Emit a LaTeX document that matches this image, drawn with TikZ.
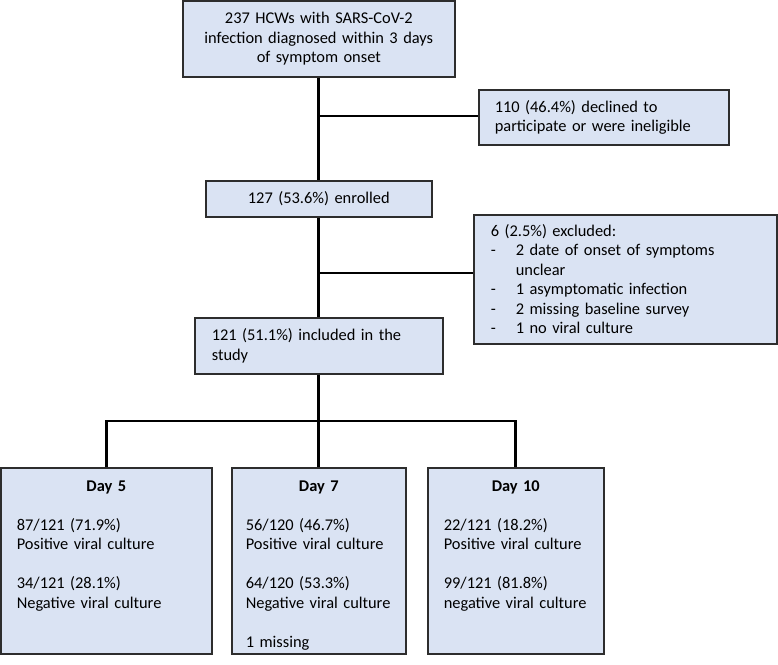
\documentclass[tikz,border=0pt]{standalone}
\usepackage{fontspec}
\setmainfont{Carlito}
\definecolor{boxfill}{RGB}{218,227,243}
\definecolor{boxline}{RGB}{45,45,45}
\newcommand{\listdash}{\makebox[25pt][l]{-}}
\newcommand{\daytitle}[1]{\makebox[\linewidth]{\textbf{#1}}}

\begin{document}
\begin{tikzpicture}
  [x=1pt,y=-1pt,
   box/.style={draw=boxline,fill=boxfill,line width=1.6pt,inner xsep=16pt,inner ysep=0pt,anchor=north west,font=\fontsize{16.4}{19.5}\selectfont},
   daybox/.style={box,align=left,inner ysep=10pt,text height=13.5pt,text depth=152.5pt},
   link/.style={line width=2.8pt}]

  \useasboundingbox (0,0) rectangle (778,664);

  % Screened
  \node [box,align=center,text width=240pt,minimum height=76pt] (screened) at (182,0) {237 HCWs with SARS-CoV-2\\infection diagnosed within 3 days\\of symptom onset};

  % Declined
  \node [box,align=left,text width=218pt,minimum height=55pt] (declined) at (478,89) {110 (46.4\%) declined to\\participate or were ineligible};

  % Enrolled
  \node [box,align=center,text width=194pt,minimum height=36pt] (enrolled) at (205,180) {127 (53.6\%) enrolled};

  % Excluded
  \node [box,align=left,inner xsep=17pt,text width=269pt,minimum height=129pt] (excluded) at (473,214) {6 (2.5\%) excluded:\\\listdash 2 date of onset of symptoms\\\hspace*{25pt}unclear\\\listdash 1 asymptomatic infection\\\listdash 2 missing baseline survey\\\listdash 1 no viral culture};

  % Included
  \node [box,align=left,inner xsep=17pt,text width=214pt,minimum height=56pt] (included) at (194,317) {121 (51.1\%) included in the\\study};

  % Follow-up days
  \node [daybox,text width=179pt] (day5) at (0,467) {\daytitle{Day 5}\\[19.5pt]87/121 (71.9\%)\\Positive viral culture\\[19.5pt]34/121 (28.1\%)\\Negative viral culture};
  \node [daybox,inner xsep=14pt,text width=146pt] (day7) at (231,467) {\daytitle{Day 7}\\[19.5pt]56/120 (46.7\%)\\Positive viral culture\\[19.5pt]64/120 (53.3\%)\\Negative viral culture\\[19.5pt]1 missing};
  \node [daybox,text width=144pt] (day10) at (427,467) {\daytitle{Day 10}\\[19.5pt]22/121 (18.2\%)\\Positive viral culture\\[19.5pt]99/121 (81.8\%)\\negative viral culture};

  % Connectors
  \coordinate (j1) at (318,116);
  \coordinate (j2) at (318,273);
  \coordinate (split) at (318,421);
  \draw [link] (screened) -- (enrolled);
  \draw [link] (j1) -- (declined.west |- j1);
  \draw [link] (enrolled) -- (included);
  \draw [link] (j2) -- (excluded.west |- j2);
  \draw [link] (included) -- (day7);
  \draw [link] (day5) |- (split) -| (day10);
\end{tikzpicture}
\end{document}
